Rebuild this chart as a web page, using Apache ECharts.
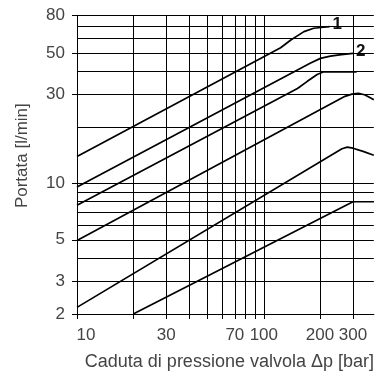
<!DOCTYPE html>
<html>
<head>
<meta charset="utf-8">
<script src="https://cdn.jsdelivr.net/npm/echarts@6/dist/echarts.min.js"></script>
<style>
html,body{margin:0;padding:0;background:#fff;}
#c{width:377px;height:376px;}
</style>
</head>
<body>
<div id="c"></div>
<script>
// Axis ticks / grid values
const xGridLines = [20, 30, 40, 50, 60, 70, 80, 90, 100, 200, 300];
const xTickValues = [10, 20, 30, 40, 50, 60, 70, 80, 90, 100, 200, 300];
const xLabelValues = [10, 30, 70, 100, 200, 300];
const yGridLines = [3, 4, 5, 6, 7, 8, 9, 10, 20, 30, 40, 50, 60, 70, 80];
const yLabelValues = [2, 3, 5, 10, 30, 50, 80];

// Curves: [Δp bar, flow l/min]
const curve1 = [[10, 14.0], [123, 53.6], [139.5, 59.0], [164, 65.4], [185, 68.2], [209, 69.0], [225, 69.6]];
const curve2 = [[10, 9.6], [178, 44.4], [201, 47.0], [227, 48.3], [260, 49.2], [300, 50.0]];
const curve3 = [[10, 7.67], [151.4, 32.4], [171, 35.4], [193, 38.5], [209, 39.8], [314, 39.8]];
const curve4 = [[10, 4.96], [272, 29.4], [296, 30.2], [321, 30.5], [346, 30.0], [365, 29.2], [388, 28.2]];
const curve5 = [[10, 2.17], [262, 15.4], [280, 15.7], [300, 15.5], [340, 14.9], [388, 14.2]];
const curve6 = [[20, 2.0], [300, 8.0], [388, 8.0]];
const curveLabels = ['1', '2', '', '', '', ''];

const FONT = 'Liberation Sans';
const TXT = '#444';

const chart = echarts.init(document.getElementById('c'), null, {renderer: 'canvas'});

const curves = [curve1, curve2, curve3, curve4, curve5, curve6];
const series = curves.map((d, i) => {
  const s = {
    type: 'line', data: d, showSymbol: false, symbol: 'none',
    lineStyle: {color: '#000', width: 1.7},
    animation: false, silent: true, z: 3
  };
  if (curveLabels[i]) {
    s.endLabel = {
      show: true, formatter: curveLabels[i],
      fontFamily: FONT, fontWeight: 'bold', fontSize: 17, color: '#111',
      distance: 3, offset: [0, -2]
    };
  }
  if (i === 0) {
    s.markLine = {
      silent: true, symbol: ['none', 'none'], animation: false,
      label: {show: false},
      lineStyle: {color: '#000', width: 1, type: 'solid'},
      emphasis: {disabled: true},
      data: xGridLines.map(v => ({xAxis: v})).concat(yGridLines.map(v => ({yAxis: v})))
    };
  }
  return s;
});

chart.setOption({
  backgroundColor: '#fff',
  animation: false,
  grid: {left: 77, right: 0, top: 15.3, bottom: 59.5, containLabel: false},
  xAxis: {
    type: 'log', logBase: 10, min: 10, max: 388,
    name: 'Caduta di pressione valvola \u0394p [bar]',
    nameLocation: 'middle', nameGap: 39,
    nameTextStyle: {fontFamily: FONT, fontSize: 18, color: TXT, padding: [0, 0, 0, 8]},
    axisLine: {show: true, lineStyle: {color: '#000', width: 1}},
    axisTick: {show: true, customValues: xTickValues, length: 5, inside: false, lineStyle: {color: '#000', width: 1}},
    minorTick: {show: false},
    splitLine: {show: false},
    axisLabel: {
      customValues: xLabelValues, margin: 13,
      fontFamily: FONT, fontSize: 17, color: TXT,
      formatter: v => (v === 10 ? '{l|10}' : String(v)),
      rich: {l: {fontFamily: FONT, fontSize: 17, color: TXT, padding: [0, 0, 0, 18]}}
    }
  },
  yAxis: {
    type: 'log', logBase: 10, min: 2, max: 80,
    name: 'Portata [l/min]',
    nameLocation: 'middle', nameGap: 46, nameRotate: 90,
    nameTextStyle: {fontFamily: FONT, fontSize: 17, color: TXT, padding: [0, 0, 0, 18]},
    axisLine: {show: true, lineStyle: {color: '#000', width: 1}},
    axisTick: {show: true, customValues: yLabelValues, length: 5, inside: false, lineStyle: {color: '#000', width: 1}},
    minorTick: {show: false},
    splitLine: {show: false},
    axisLabel: {
      customValues: yLabelValues, margin: 12,
      fontFamily: FONT, fontSize: 17, color: TXT
    }
  },
  series: series
});
</script>
</body>
</html>
